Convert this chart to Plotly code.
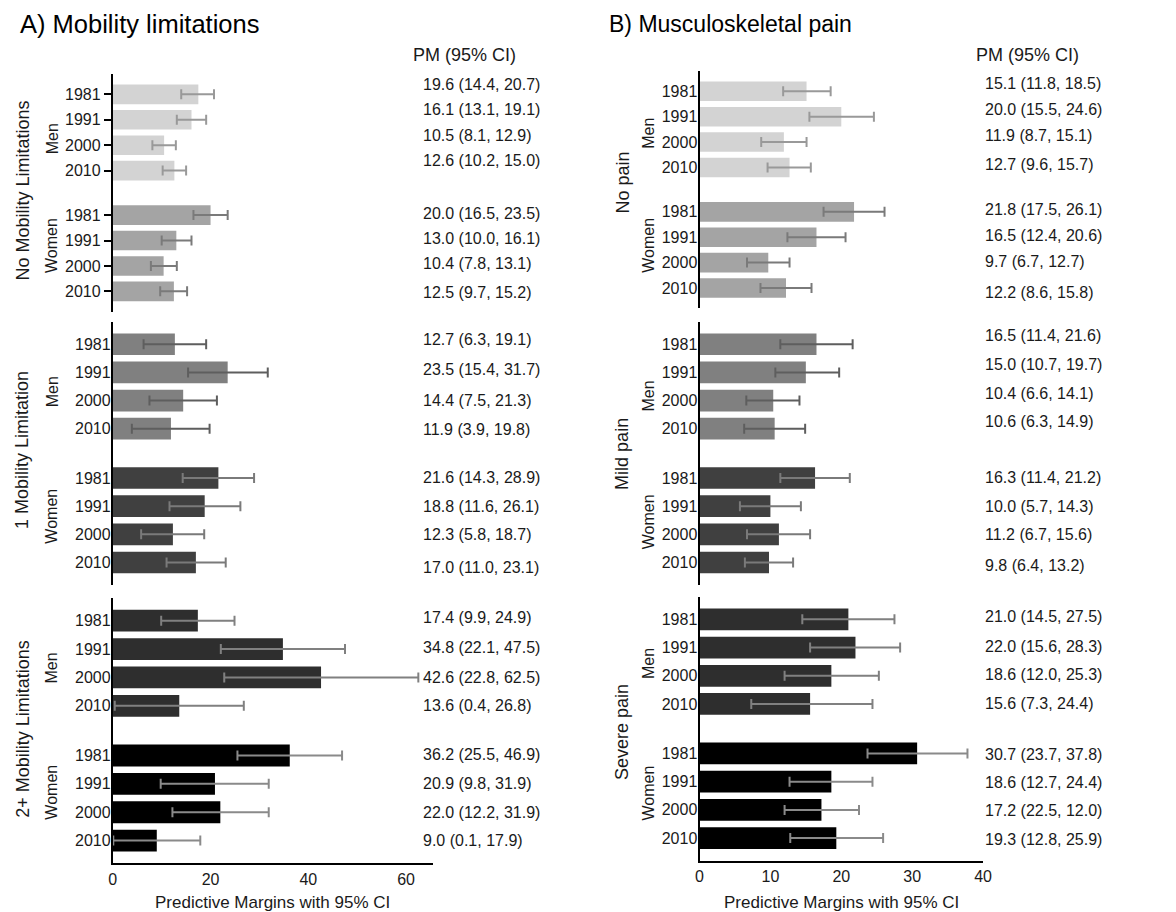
import plotly.graph_objects as go

# ---------------- data ----------------
years = ["1981", "1991", "2000", "2010"]
sexes = ["Men", "Women"]

mob_groups = ["No Mobility Limitations", "1 Mobility Limitation", "2+ Mobility Limitations"]
mob_pm = [[17.5, 16.1, 10.5, 12.6, 20.0, 13.0, 10.4, 12.5],
          [12.7, 23.5, 14.4, 11.9, 21.6, 18.8, 12.3, 17.0],
          [17.4, 34.8, 42.6, 13.6, 36.2, 20.9, 22.0, 9.0]]
mob_lo = [[14.0, 13.1, 8.1, 10.2, 16.5, 10.0, 7.8, 9.7],
          [6.3, 15.4, 7.5, 3.9, 14.3, 11.6, 5.8, 11.0],
          [9.9, 22.1, 22.8, 0.4, 25.5, 9.8, 12.2, 0.1]]
mob_hi = [[20.7, 19.1, 12.9, 15.0, 23.5, 16.1, 13.1, 15.2],
          [19.1, 31.7, 21.3, 19.8, 28.9, 26.1, 18.7, 23.1],
          [24.9, 47.5, 62.5, 26.8, 46.9, 31.9, 31.9, 17.9]]
mob_text = [["19.6 (14.4, 20.7)", "16.1 (13.1, 19.1)", "10.5 (8.1, 12.9)", "12.6 (10.2, 15.0)",
             "20.0 (16.5, 23.5)", "13.0 (10.0, 16.1)", "10.4 (7.8, 13.1)", "12.5 (9.7, 15.2)"],
            ["12.7 (6.3, 19.1)", "23.5 (15.4, 31.7)", "14.4 (7.5, 21.3)", "11.9 (3.9, 19.8)",
             "21.6 (14.3, 28.9)", "18.8 (11.6, 26.1)", "12.3 (5.8, 18.7)", "17.0 (11.0, 23.1)"],
            ["17.4 (9.9, 24.9)", "34.8 (22.1, 47.5)", "42.6 (22.8, 62.5)", "13.6 (0.4, 26.8)",
             "36.2 (25.5, 46.9)", "20.9 (9.8, 31.9)", "22.0 (12.2, 31.9)", "9.0 (0.1, 17.9)"]]

pain_groups = ["No pain", "Mild pain", "Severe pain"]
pain_pm = [[15.1, 20.0, 11.9, 12.7, 21.8, 16.5, 9.7, 12.2],
           [16.5, 15.0, 10.4, 10.6, 16.3, 10.0, 11.2, 9.8],
           [21.0, 22.0, 18.6, 15.6, 30.7, 18.6, 17.2, 19.3]]
pain_lo = [[11.8, 15.5, 8.7, 9.6, 17.5, 12.4, 6.7, 8.6],
           [11.4, 10.7, 6.6, 6.3, 11.4, 5.7, 6.7, 6.4],
           [14.5, 15.6, 12.0, 7.3, 23.7, 12.7, 12.0, 12.8]]
pain_hi = [[18.5, 24.6, 15.1, 15.7, 26.1, 20.6, 12.7, 15.8],
           [21.6, 19.7, 14.1, 14.9, 21.2, 14.3, 15.6, 13.2],
           [27.5, 28.3, 25.3, 24.4, 37.8, 24.4, 22.5, 25.9]]
pain_text = [["15.1 (11.8, 18.5)", "20.0 (15.5, 24.6)", "11.9 (8.7, 15.1)", "12.7 (9.6, 15.7)",
              "21.8 (17.5, 26.1)", "16.5 (12.4, 20.6)", "9.7 (6.7, 12.7)", "12.2 (8.6, 15.8)"],
             ["16.5 (11.4, 21.6)", "15.0 (10.7, 19.7)", "10.4 (6.6, 14.1)", "10.6 (6.3, 14.9)",
              "16.3 (11.4, 21.2)", "10.0 (5.7, 14.3)", "11.2 (6.7, 15.6)", "9.8 (6.4, 13.2)"],
             ["21.0 (14.5, 27.5)", "22.0 (15.6, 28.3)", "18.6 (12.0, 25.3)", "15.6 (7.3, 24.4)",
              "30.7 (23.7, 37.8)", "18.6 (12.7, 24.4)", "17.2 (22.5, 12.0)", "19.3 (12.8, 25.9)"]]

# ---------------- layout constants ----------------
W, H = 1176, 912
def fx(px):
    return px / W
def fy(py):
    return 1 - py / H

ROWS = [0, 1, 2, 3, 4.75, 5.75, 6.75, 7.75]
PAD = 0.8

bar_colors = [["#d3d3d3", "#a4a4a4"], ["#808080", "#404040"], ["#2e2e2e", "#000000"]]
err_colors = [["#999999", "#7a7a7a"], ["#5e5e5e", "#7a7a7a"], ["#808080", "#8a8a8a"]]

panels = [
    dict(title="A) Mobility limitations", title_x=14, title_size=25.5, groups=mob_groups,
         pm=mob_pm, lo=mob_lo, hi=mob_hi,
         text=mob_text, xdom=(110, 433.3), xrange=[0, 65.4], xticks=[0, 20, 40, 60],
         ydoms=[(74, 311.7), (321.7, 585), (598, 863.3)], header_x=412, text_x=422,
         glabel_x=19, glabel_y=[190.8, 450.3, 729],
         slabel_x=48.5, slabel_y=[(138.3, 245), (391.3, 515.7), (667.5, 791.7)],
         shifts=[[10, 10, 10, 10, 2, 2, 2, -1], [5, 3, 0, -1, 0, 0, 0, -5], [3, 2, 0, 0, 1, 0, 0, 0]],
         yticks=[True, False, False]),
    dict(title="B) Musculoskeletal pain", title_x=610, title_size=23, groups=pain_groups,
         pm=pain_pm, lo=pain_lo, hi=pain_hi,
         text=pain_text, xdom=(703.3, 990), xrange=[0, 40], xticks=[0, 10, 20, 30, 40],
         ydoms=[(71, 308.3), (321.7, 585), (596.7, 860.7)], header_x=981, text_x=989.5,
         glabel_x=625, glabel_y=[182.5, 453.8, 732],
         slabel_x=651.7, slabel_y=[(133.3, 245.3), (396, 521.8), (663.5, 793)],
         shifts=[[8, 7, 7, 3, 2, 2, 1, -4], [9, 8, 7, 7, 0, 0, 0, -3], [3, 1, 1, 0, -1, -1, -1, -1]],
         yticks=[False, False, False]),
]

fig = go.Figure()
annotations = []
layout_axes = {}
FONT = "Liberation Sans, Arial, sans-serif"
TXT = "#1a1a1a"

k = 0
for p in panels:
    for g in range(3):
        k += 1
        xa = "x" if k == 1 else f"x{k}"
        ya = "y" if k == 1 else f"y{k}"
        pm, lo, hi = p["pm"][g], p["lo"][g], p["hi"][g]
        for s in range(2):
            idx = slice(4 * s, 4 * s + 4)
            v = pm[idx]
            l = lo[idx]
            h = hi[idx]
            fig.add_trace(go.Bar(
                x=v, y=ROWS[4 * s:4 * s + 4], orientation="h",
                marker=dict(color=bar_colors[g][s], line=dict(width=0)),
                width=0.77,
                error_x=dict(type="data", symmetric=False,
                             array=[hh - vv for hh, vv in zip(h, v)],
                             arrayminus=[vv - ll for vv, ll in zip(v, l)],
                             color=err_colors[g][s], thickness=2, width=5),
                xaxis=xa, yaxis=ya, showlegend=False, hoverinfo="skip",
            ))
        bottom = (g == 2)
        x0, x1 = p["xdom"]
        y0, y1 = p["ydoms"][g]
        layout_axes["xaxis" if k == 1 else f"xaxis{k}"] = dict(
            domain=[fx(x0), fx(x1)], anchor=ya, range=p["xrange"],
            showline=bottom, linecolor="black", linewidth=2,
            ticks="", tickvals=p["xticks"], showticklabels=bottom,
            tickfont=dict(size=16, color=TXT, family=FONT),
            showgrid=False, zeroline=False, fixedrange=True)
        has_ticks = p["yticks"][g]
        yax = dict(
            domain=[fy(y1), fy(y0)], anchor=xa, range=[ROWS[-1] + PAD, -PAD],
            showline=True, linecolor="black", linewidth=2,
            tickvals=ROWS, ticktext=years + years,
            tickfont=dict(size=16, color=TXT, family=FONT),
            showgrid=False, zeroline=False, fixedrange=True)
        if has_ticks:
            yax.update(ticks="outside", ticklen=7, tickwidth=2, tickcolor="black")
        else:
            yax.update(ticks="", ticklabelstandoff=-3)
        layout_axes["yaxis" if k == 1 else f"yaxis{k}"] = yax
        # value labels
        for r in range(8):
            annotations.append(dict(
                text=p["text"][g][r], xref="paper", yref=ya, x=fx(p["text_x"]), y=ROWS[r],
                xanchor="left", yanchor="middle", showarrow=False, yshift=p["shifts"][g][r],
                font=dict(size=16, color=TXT, family=FONT)))
        # group label
        annotations.append(dict(
            text=p["groups"][g], xref="paper", yref="paper", x=fx(p["glabel_x"]), y=fy(p["glabel_y"][g]),
            xanchor="center", yanchor="middle", textangle=-90, showarrow=False,
            font=dict(size=18, color=TXT, family=FONT)))
        for s in range(2):
            annotations.append(dict(
                text=sexes[s], xref="paper", yref="paper", x=fx(p["slabel_x"]), y=fy(p["slabel_y"][g][s]),
                xanchor="center", yanchor="middle", textangle=-90, showarrow=False,
                font=dict(size=16, color=TXT, family=FONT)))
    # titles / headers / axis titles
    annotations.append(dict(
        text=p["title"], xref="paper", yref="paper", x=fx(p["title_x"]), y=fy(24),
        xanchor="left", yanchor="middle", showarrow=False,
        font=dict(size=p["title_size"], color="black", family=FONT)))
    annotations.append(dict(
        text="PM (95% CI)", xref="paper", yref="paper", x=fx(p["header_x"]), y=fy(55),
        xanchor="left", yanchor="middle", showarrow=False,
        font=dict(size=18, color=TXT, family=FONT)))
    annotations.append(dict(
        text="Predictive Margins with 95% CI", xref="paper", yref="paper",
        x=fx((p["xdom"][0] + p["xdom"][1]) / 2), y=fy(902),
        xanchor="center", yanchor="middle", showarrow=False,
        font=dict(size=17, color=TXT, family=FONT)))

fig.update_layout(
    width=W, height=H, margin=dict(l=0, r=0, t=0, b=0),
    paper_bgcolor="white", plot_bgcolor="white",
    barmode="overlay", annotations=annotations,
    font=dict(family=FONT, color=TXT),
    **layout_axes)

fig.write_html("out.html")
